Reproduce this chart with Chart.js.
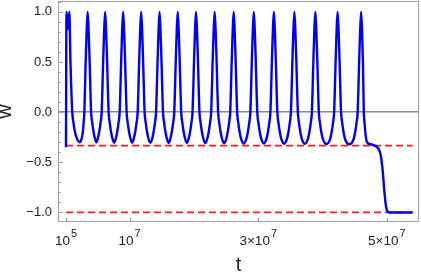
<!DOCTYPE html>
<html>
<head>
<meta charset="utf-8">
<script src="https://cdn.jsdelivr.net/npm/chart.js@4/dist/chart.umd.min.js"></script>
<style>
  html, body { margin: 0; padding: 0; background: #ffffff; }
  #wrap { width: 421px; height: 273px; }
</style>
</head>
<body>
<div id="wrap"><canvas id="c" width="421" height="273"></canvas></div>
<script>
// ---- data: t in units of 10^7, w ----
const tE7 = [
  0.010, 0.018, 0.040, 0.062, 0.080, 0.108, 0.125, 0.150, 0.185, 0.228,
  0.255, 0.272, 0.285, 0.296, 0.316, 0.331, 0.347, 0.363, 0.378, 0.401, 0.417, 0.440, 0.464, 0.483,
  0.502, 0.526, 0.549, 0.565, 0.588, 0.603, 0.619, 0.635, 0.650, 0.673, 0.689, 0.712, 0.736, 0.759,
  0.782, 0.806, 0.829, 0.845, 0.868, 0.883, 0.899, 0.915, 0.930, 0.953, 0.969, 0.992, 1.016, 1.039,
  1.062, 1.086, 1.109, 1.125, 1.148, 1.163, 1.179, 1.195, 1.210, 1.233, 1.249, 1.272, 1.296, 1.322,
  1.348, 1.372, 1.395, 1.411, 1.434, 1.449, 1.465, 1.481, 1.496, 1.519, 1.535, 1.558, 1.582, 1.607,
  1.631, 1.655, 1.678, 1.694, 1.717, 1.732, 1.748, 1.764, 1.779, 1.802, 1.818, 1.841, 1.865, 1.890,
  1.915, 1.939, 1.962, 1.978, 2.001, 2.016, 2.032, 2.048, 2.063, 2.086, 2.102, 2.125, 2.149, 2.177,
  2.205, 2.229, 2.252, 2.268, 2.291, 2.306, 2.322, 2.338, 2.353, 2.376, 2.392, 2.415, 2.439, 2.470,
  2.501, 2.525, 2.548, 2.564, 2.587, 2.602, 2.618, 2.634, 2.649, 2.672, 2.688, 2.711, 2.735, 2.775,
  2.814, 2.838, 2.861, 2.877, 2.900, 2.915, 2.931, 2.947, 2.962, 2.985, 3.001, 3.024, 3.048, 3.087,
  3.126, 3.150, 3.173, 3.189, 3.212, 3.227, 3.243, 3.259, 3.274, 3.297, 3.313, 3.336, 3.360, 3.403,
  3.445, 3.469, 3.492, 3.508, 3.531, 3.546, 3.562, 3.578, 3.593, 3.616, 3.632, 3.655, 3.679, 3.725,
  3.771, 3.795, 3.818, 3.834, 3.857, 3.872, 3.888, 3.904, 3.919, 3.942, 3.958, 3.981, 4.005, 4.061,
  4.117, 4.141, 4.164, 4.180, 4.203, 4.218, 4.234, 4.250, 4.265, 4.288, 4.304, 4.327, 4.351, 4.417,
  4.483, 4.507, 4.530, 4.546, 4.569, 4.584, 4.600, 4.615, 4.628, 4.642, 4.655, 4.670, 4.690,
  4.762, 4.830, 4.875, 4.905, 4.935, 4.960, 4.985, 5.010, 5.040, 5.400
];
const wValues = [
  -0.35, 1.00, 0.83, 1.00, 0.50, 0.00, -0.10, -0.20, -0.27, -0.300,
  -0.26, -0.20, -0.10, 0.00, 0.50, 0.80, 1.00, 0.80, 0.50, 0.00, -0.10, -0.20, -0.27, -0.300,
  -0.27, -0.20, -0.10, 0.00, 0.50, 0.80, 1.00, 0.80, 0.50, 0.00, -0.10, -0.20, -0.27, -0.305,
  -0.27, -0.20, -0.10, 0.00, 0.50, 0.80, 1.00, 0.80, 0.50, 0.00, -0.10, -0.20, -0.27, -0.305,
  -0.27, -0.20, -0.10, 0.00, 0.50, 0.80, 1.00, 0.80, 0.50, 0.00, -0.10, -0.20, -0.27, -0.305,
  -0.27, -0.20, -0.10, 0.00, 0.50, 0.80, 1.00, 0.80, 0.50, 0.00, -0.10, -0.20, -0.27, -0.307,
  -0.27, -0.20, -0.10, 0.00, 0.50, 0.80, 1.00, 0.80, 0.50, 0.00, -0.10, -0.20, -0.27, -0.308,
  -0.27, -0.20, -0.10, 0.00, 0.50, 0.80, 1.00, 0.80, 0.50, 0.00, -0.10, -0.20, -0.27, -0.310,
  -0.27, -0.20, -0.10, 0.00, 0.50, 0.80, 1.00, 0.80, 0.50, 0.00, -0.10, -0.20, -0.27, -0.310,
  -0.27, -0.20, -0.10, 0.00, 0.50, 0.80, 1.00, 0.80, 0.50, 0.00, -0.10, -0.20, -0.27, -0.312,
  -0.27, -0.20, -0.10, 0.00, 0.50, 0.80, 1.00, 0.80, 0.50, 0.00, -0.10, -0.20, -0.27, -0.313,
  -0.27, -0.20, -0.10, 0.00, 0.50, 0.80, 1.00, 0.80, 0.50, 0.00, -0.10, -0.20, -0.27, -0.315,
  -0.27, -0.20, -0.10, 0.00, 0.50, 0.80, 1.00, 0.80, 0.50, 0.00, -0.10, -0.20, -0.27, -0.316,
  -0.27, -0.20, -0.10, 0.00, 0.50, 0.80, 1.00, 0.80, 0.50, 0.00, -0.10, -0.20, -0.27, -0.318,
  -0.27, -0.20, -0.10, 0.00, 0.50, 0.80, 1.00, 0.80, 0.50, 0.00, -0.10, -0.20, -0.27, -0.320,
  -0.27, -0.20, -0.10, 0.00, 0.50, 0.80, 1.00, 0.80, 0.50, 0.00, -0.12, -0.23, -0.300,
  -0.322, -0.340, -0.370, -0.430, -0.580, -0.780, -0.930, -0.990, -1.000, -1.000
];
// reference levels (red dashed lines)
const refLevels = [-1/3, -1.0];
const refSpanE7 = [0.010, 5.400];

// ticks
const xTickValues = [0.01, 1, 3, 5];
const xTickBase = ['10', '10', '3\u00d710', '5\u00d710'];
const xTickExp = ['5', '7', '7', '7'];
const yMajorTicks = [-1.0, -0.5, 0, 0.5, 1.0];
const yAllTicks = [-1.0, -0.9, -0.8, -0.7, -0.6, -0.5, -0.4, -0.3, -0.2, -0.1, 0,
                   0.1, 0.2, 0.3, 0.4, 0.5, 0.6, 0.7, 0.8, 0.9, 1.0, 1.1];

const FONT = '"Liberation Sans", Arial, sans-serif';
const isMajor = v => yMajorTicks.some(m => Math.abs(m - v) < 1e-9);

const framePlugin = {
  id: 'frame',
  afterDraw(chart) {
    const {ctx, chartArea: a, scales} = chart;
    const xs = scales.x, ys = scales.y;
    ctx.save();
    ctx.strokeStyle = '#a0a0a0';
    ctx.lineWidth = 1;
    ctx.strokeRect(a.left + 0.5, a.top + 0.5, a.right - a.left - 1, a.bottom - a.top - 1);
    ctx.beginPath();
    yAllTicks.forEach(v => {
      const py = Math.round(ys.getPixelForValue(v)) + 0.5;
      const len = isMajor(v) ? 5 : 3;
      ctx.moveTo(a.left, py); ctx.lineTo(a.left + len, py);
    });
    xTickValues.forEach(v => {
      const px = Math.round(xs.getPixelForValue(v)) + 0.5;
      ctx.moveTo(px, a.bottom); ctx.lineTo(px, a.bottom - 4);
    });
    ctx.stroke();
    // x tick labels with raised exponents
    const baseFont = '13.5px ' + FONT, expFont = '11px ' + FONT;
    ctx.fillStyle = '#222';
    ctx.textAlign = 'left';
    ctx.textBaseline = 'alphabetic';
    xTickValues.forEach((v, i) => {
      const px = xs.getPixelForValue(v);
      ctx.font = baseFont; const wb = ctx.measureText(xTickBase[i]).width;
      ctx.font = expFont; const we = ctx.measureText(xTickExp[i]).width;
      const x0 = px - (wb + we + 1) / 2;
      ctx.font = baseFont; ctx.fillText(xTickBase[i], x0, a.bottom + 23);
      ctx.font = expFont; ctx.fillText(xTickExp[i], x0 + wb + 1, a.bottom + 15);
    });
    ctx.restore();
  }
};

const blueData = tE7.map((t, i) => ({x: t, y: wValues[i]}));
const refSets = refLevels.map(lv => ({
  data: refSpanE7.map(t => ({x: t, y: lv})),
  borderColor: '#ff1a1a',
  borderWidth: 1.8,
  borderDash: [7, 4],
  pointRadius: 0,
  fill: false,
  tension: 0
}));

new Chart(document.getElementById('c'), {
  type: 'line',
  data: {
    datasets: [
      {
        data: blueData,
        borderColor: '#0000ff',
        borderWidth: 2.4,
        pointRadius: 0,
        fill: false,
        cubicInterpolationMode: 'monotone'
      },
      ...refSets
    ]
  },
  options: {
    responsive: false,
    animation: false,
    devicePixelRatio: 1,
    layout: { padding: { left: 0, right: 2, top: 1, bottom: 0 } },
    plugins: { legend: { display: false }, tooltip: { enabled: false } },
    scales: {
      x: {
        type: 'linear',
        min: -0.114,
        max: 5.5,
        afterBuildTicks: s => { s.ticks = xTickValues.map(v => ({value: v})); },
        afterFit: s => { s.height = 51; s.paddingLeft = 0; s.paddingRight = 0; },
        ticks: { display: false, autoSkip: false, maxRotation: 0 },
        grid: { display: false, drawTicks: false },
        border: { display: false },
        title: {
          display: true,
          text: 't',
          color: '#222',
          font: { family: FONT, size: 20, lineHeight: 0.74 },
          padding: 0
        }
      },
      y: {
        type: 'linear',
        min: -1.095,
        max: 1.108,
        afterBuildTicks: s => { s.ticks = yAllTicks.map(v => ({value: v})); },
        afterFit: s => { s.width = 58; s.paddingTop = 0; s.paddingBottom = 0; },
        ticks: {
          autoSkip: false,
          padding: 6,
          color: '#222',
          font: { family: FONT, size: 13 },
          callback: v => isMajor(v) ? (v < 0 ? '\u2212' + Math.abs(v).toFixed(1) : v.toFixed(1)) : ''
        },
        grid: {
          drawTicks: false,
          lineWidth: 1.5,
          color: c => (c.tick && Math.abs(c.tick.value) < 1e-9) ? '#8a8a8a' : 'rgba(0,0,0,0)'
        },
        border: { display: false },
        title: {
          display: true,
          text: 'w',
          color: '#222',
          font: { family: FONT, size: 20, lineHeight: 0.5 },
          padding: 0
        }
      }
    }
  },
  plugins: [framePlugin]
});
</script>
</body>
</html>
